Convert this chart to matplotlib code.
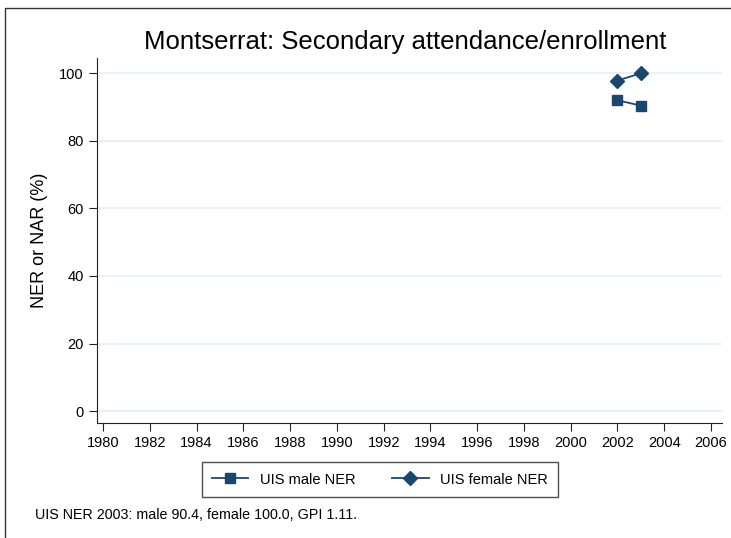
import matplotlib
matplotlib.use("Agg")
import matplotlib.pyplot as plt
from matplotlib.lines import Line2D
from matplotlib.patches import Rectangle

years = [2002, 2003]
male_ner = [92.0, 90.4]
female_ner = [97.8, 100.0]
xticks = list(range(1980, 2007, 2))
yticks = [0, 20, 40, 60, 80, 100]

W, H = 731, 538
fig = plt.figure(figsize=(W / 100, H / 100), dpi=100)
plt.rcParams['font.family'] = ['Liberation Sans', 'DejaVu Sans']

# outer frame (partially cropped)
fig.add_artist(Rectangle((5 / W, -0.1), 1.2, 1 - 8 / H + 0.1, transform=fig.transFigure,
                         fill=False, edgecolor='#333333', linewidth=1.0))

left, right, bottom, top = 97, 722, 423, 58
ax = fig.add_axes([left / W, 1 - bottom / H, (right - left) / W, (bottom - top) / H])

col = '#1a476f'
ax.plot(years, male_ner, color=col, marker='s', markersize=7, linewidth=1.3)
ax.plot(years, female_ner, color=col, marker='D', markersize=7, linewidth=1.3)

ax.set_xlim(1979.74, 2006.47)
ax.set_ylim(-3.5, 104.5)
ax.set_xticks(xticks)
ax.set_yticks(yticks)
ax.tick_params(labelsize=10.5, length=6, color='#222222')
for y in yticks:
    ax.axhline(y, color='#e6edf2', linewidth=1.2, zorder=0)
for s in ['top', 'right']:
    ax.spines[s].set_visible(False)
for s in ['left', 'bottom']:
    ax.spines[s].set_color('#222222')

ax.set_ylabel('NER or NAR (%)', fontsize=13, labelpad=8)
fig.text(405 / W, 1 - 42 / H, 'Montserrat: Secondary attendance/enrollment',
         ha='center', va='center', fontsize=18.5)

handles = [Line2D([], [], color=col, marker='s', markersize=7, linewidth=1.3),
           Line2D([], [], color=col, marker='D', markersize=7, linewidth=1.3)]
leg = fig.legend(handles, ['UIS male NER', 'UIS female NER'], ncol=2,
                 loc='center', bbox_to_anchor=(380 / W, 1 - 479.5 / H),
                 fontsize=10.5, frameon=True, fancybox=False, edgecolor='#222222',
                 handlelength=2.5, columnspacing=2.5, borderpad=0.7)
leg.get_frame().set_linewidth(1.0)

fig.text(35 / W, 1 - 515 / H, 'UIS NER 2003: male 90.4, female 100.0, GPI 1.11.',
         ha='left', va='center', fontsize=10.3)

fig.savefig('out.png', dpi=100)
